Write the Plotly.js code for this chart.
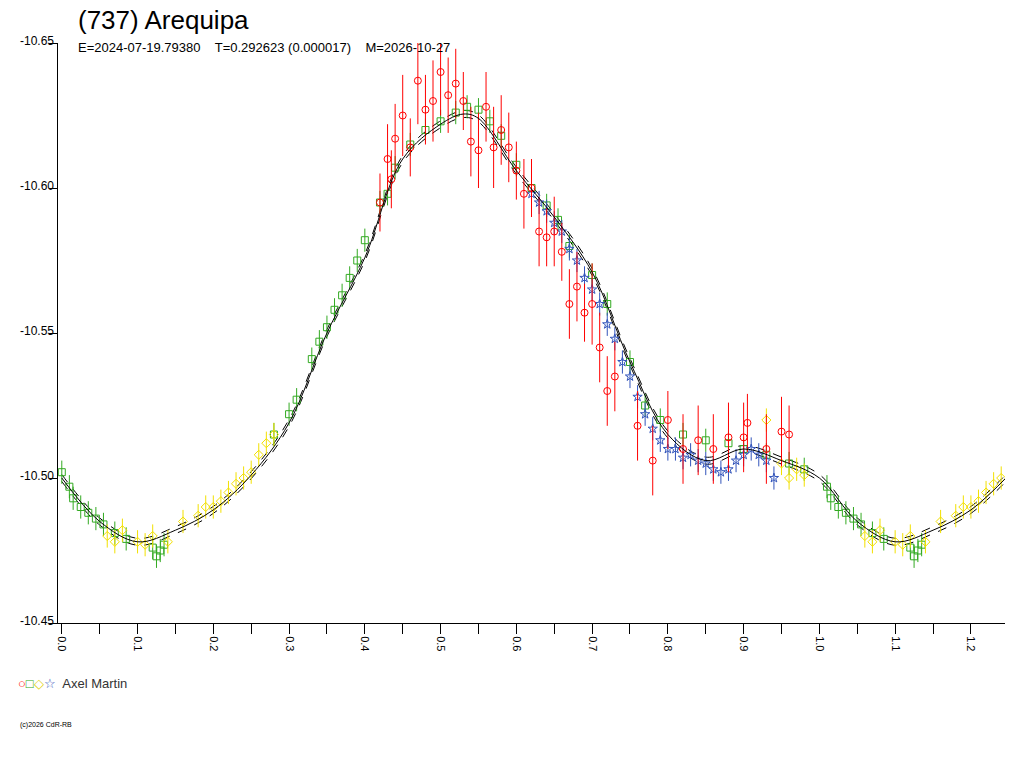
<!DOCTYPE html>
<html>
<head>
<meta charset="utf-8">
<script src="https://cdn.plot.ly/plotly-3.0.1.min.js"></script>
<style>body{margin:0;background:#fff}#plot{width:1024px;height:768px}</style>
</head>
<body>
<div id="plot"></div>
<script>
// fitted curve (phase, mag)
const curvePhase = [0.0,0.05,0.1,0.15,0.2,0.25,0.3,0.35,0.4,0.45,0.5,0.53,0.55,0.6,0.65,0.7,0.75,0.8,0.85,0.9,0.95,1.0];
const curveMag = [-10.500,-10.485,-10.478,-10.482,-10.489,-10.501,-10.519,-10.550,-10.576,-10.610,-10.622,-10.6255,-10.624,-10.606,-10.590,-10.571,-10.540,-10.515,-10.506,-10.510,-10.506,-10.500];
const envelope = 0.0012;

const redPhase = [0.42,0.43,0.435,0.44,0.45,0.46,0.47,0.48,0.49,0.50,0.51,0.52,0.53,0.54,0.55,0.56,0.57,0.58,0.59,0.60,0.61,0.62,0.63,0.64,0.65,0.66,0.67,0.68,0.69,0.70,0.71,0.72,0.73,0.76,0.78,0.80,0.82,0.84,0.86,0.88,0.90,0.905,0.93,0.95,0.96];
const redMag = [-10.595,-10.61,-10.603,-10.617,-10.625,-10.614,-10.637,-10.627,-10.630,-10.640,-10.632,-10.636,-10.630,-10.616,-10.613,-10.628,-10.614,-10.620,-10.614,-10.606,-10.598,-10.600,-10.585,-10.583,-10.585,-10.578,-10.560,-10.566,-10.557,-10.560,-10.545,-10.530,-10.535,-10.518,-10.506,-10.520,-10.510,-10.513,-10.510,-10.514,-10.514,-10.519,-10.510,-10.516,-10.515];
const redErr = [0.010,0.012,0.010,0.012,0.014,0.010,0.015,0.012,0.014,0.015,0.013,0.012,0.010,0.012,0.013,0.012,0.014,0.012,0.012,0.010,0.012,0.010,0.012,0.010,0.012,0.010,0.012,0.012,0.010,0.014,0.012,0.012,0.012,0.012,0.012,0.010,0.012,0.012,0.012,0.012,0.012,0.010,0.012,0.012,0.010];

const greenPhase = [0.0,0.01,0.015,0.025,0.035,0.045,0.055,0.07,0.085,0.12,0.125,0.13,0.135,0.28,0.30,0.31,0.33,0.34,0.35,0.36,0.37,0.38,0.39,0.40,0.42,0.43,0.44,0.46,0.48,0.50,0.52,0.535,0.55,0.565,0.58,0.60,0.62,0.64,0.655,0.67,0.70,0.72,0.75,0.77,0.79,0.82,0.85,0.88,0.90,0.93,0.96,0.98];
const greenMag = [-10.502,-10.497,-10.493,-10.490,-10.488,-10.486,-10.484,-10.481,-10.479,-10.476,-10.473,-10.475,-10.477,-10.515,-10.522,-10.527,-10.541,-10.547,-10.552,-10.558,-10.563,-10.569,-10.575,-10.582,-10.595,-10.598,-10.607,-10.615,-10.620,-10.623,-10.626,-10.628,-10.627,-10.623,-10.618,-10.608,-10.600,-10.594,-10.589,-10.580,-10.570,-10.560,-10.540,-10.525,-10.520,-10.515,-10.513,-10.512,-10.510,-10.508,-10.505,-10.503];

const yellowPhase = [0.06,0.07,0.08,0.10,0.11,0.12,0.14,0.16,0.18,0.19,0.20,0.21,0.22,0.23,0.24,0.25,0.26,0.27,0.28,0.93,0.95,0.96,0.97,0.98];
const yellowMag = [-10.480,-10.478,-10.482,-10.478,-10.477,-10.480,-10.478,-10.485,-10.487,-10.490,-10.490,-10.492,-10.495,-10.498,-10.500,-10.502,-10.508,-10.512,-10.515,-10.520,-10.505,-10.500,-10.503,-10.501];

const bluePhase = [0.62,0.63,0.64,0.65,0.66,0.67,0.68,0.69,0.70,0.71,0.72,0.73,0.74,0.75,0.76,0.77,0.78,0.79,0.80,0.81,0.82,0.83,0.84,0.85,0.86,0.87,0.88,0.89,0.90,0.91,0.92,0.93,0.94];
const blueMag = [-10.598,-10.595,-10.592,-10.588,-10.585,-10.579,-10.575,-10.569,-10.565,-10.560,-10.553,-10.548,-10.540,-10.535,-10.528,-10.522,-10.517,-10.513,-10.510,-10.510,-10.507,-10.508,-10.506,-10.505,-10.503,-10.502,-10.503,-10.506,-10.508,-10.510,-10.508,-10.506,-10.500];

const PHASE_MAX = 1.245;

// repeat the start of the cycle past phase 1.0
function wrap(ph, mag, err) {
  const x = [], y = [], e = [];
  ph.forEach((p, i) => {
    x.push(p); y.push(mag[i]); e.push(err ? err[i] : 0.004);
    if (p + 1 <= PHASE_MAX && p > 0) { x.push(p + 1); y.push(mag[i]); e.push(err ? err[i] : 0.004); }
  });
  return { x, y, e };
}

const cx = curvePhase.concat(curvePhase.slice(1).filter(p => p + 1 <= PHASE_MAX + 0.05).map(p => p + 1));
const cy = curveMag.concat(curveMag.slice(1, cx.length - curvePhase.length + 1));

function pts(ph, mag, err, color, symbol) {
  const w = wrap(ph, mag, err);
  return {
    x: w.x, y: w.y, type: 'scatter', mode: 'markers', showlegend: false,
    marker: { symbol: symbol, color: color, size: 7, line: { width: 1, color: color } },
    error_y: { type: 'data', array: w.e, color: color, thickness: 1, width: 0 }
  };
}

const data = [
  { x: cx, y: cy.map(v => v - envelope), mode: 'lines', line: { color: '#000', width: 1, dash: 'dash', shape: 'spline' }, showlegend: false },
  { x: cx, y: cy.map(v => v + envelope), mode: 'lines', line: { color: '#000', width: 1, dash: 'dash', shape: 'spline' }, showlegend: false },
  pts(greenPhase, greenMag, null, '#33aa22', 'square-open'),
  pts(yellowPhase, yellowMag, null, '#f2e000', 'diamond-open'),
  pts(bluePhase, blueMag, null, '#3355bb', 'star-open'),
  pts(redPhase, redMag, redErr, '#ff0000', 'circle-open'),
  { x: cx, y: cy, mode: 'lines', line: { color: '#000', width: 1, shape: 'spline' }, showlegend: false }
];

const yTicks = [-10.65, -10.60, -10.55, -10.50, -10.45];
const ann = yTicks.map(v => ({
  x: 0, xref: 'paper', xanchor: 'right', xshift: -2, y: v, yref: 'y', yanchor: 'middle', yshift: 2,
  text: v.toFixed(2), showarrow: false, font: { size: 12, color: '#000' }
}));
ann.push(
  { x: 76, y: 20, xref: 'pixel', yref: 'pixel', text: '(737) Arequipa', showarrow: false, xanchor: 'left', yanchor: 'middle', font: { size: 26, color: '#000' } },
  { x: 76, y: 48, xref: 'pixel', yref: 'pixel', text: 'E=2024-07-19.79380    T=0.292623 (0.000017)    M=2026-10-27', showarrow: false, xanchor: 'left', yanchor: 'middle', font: { size: 13, color: '#000' } },
  { x: 16, y: 683, xref: 'pixel', yref: 'pixel', text: '<span style="color:#ff0000">○</span><span style="color:#33aa22">□</span><span style="color:#e0d000">◇</span><span style="color:#3355bb">☆</span>  Axel Martin', showarrow: false, xanchor: 'left', yanchor: 'middle', font: { size: 13, color: '#333' } },
  { x: 18, y: 725, xref: 'pixel', yref: 'pixel', text: '(c)2026 CdR-RB', showarrow: false, xanchor: 'left', yanchor: 'middle', font: { size: 7, color: '#000' } }
);
// convert pixel annotations to paper coords
const L = 58, R = 19, T = 43, B = 145, W = 1024, H = 768;
ann.forEach(a => {
  if (a.xref === 'pixel') {
    a.xref = 'paper'; a.yref = 'paper';
    a.x = (a.x - L) / (W - L - R);
    a.y = 1 - (a.y - T) / (H - T - B);
  }
});

const layout = {
  width: W, height: H,
  margin: { l: L, r: R, t: T, b: B },
  paper_bgcolor: '#fff', plot_bgcolor: '#fff',
  font: { family: 'Arial, Liberation Sans, sans-serif', color: '#000' },
  showlegend: false,
  xaxis: {
    range: [-0.005, PHASE_MAX], dtick: 0.1, tick0: 0, tickformat: '.1f', tickangle: 90,
    ticks: 'outside', ticklen: 10, tickcolor: '#000', showgrid: false, zeroline: false,
    showline: true, linecolor: '#000', tickfont: { size: 11 },
    minor: { dtick: 0.05, ticks: 'outside', ticklen: 10, tickcolor: '#000' }
  },
  yaxis: {
    range: [-10.45, -10.65], tickvals: yTicks, showticklabels: false,
    ticks: 'outside', ticklen: 8, tickcolor: '#000', showgrid: false, zeroline: false,
    showline: true, linecolor: '#000'
  },
  annotations: ann
};

Plotly.newPlot(document.getElementById('plot'), data, layout, { staticPlot: true });
</script>
</body>
</html>
